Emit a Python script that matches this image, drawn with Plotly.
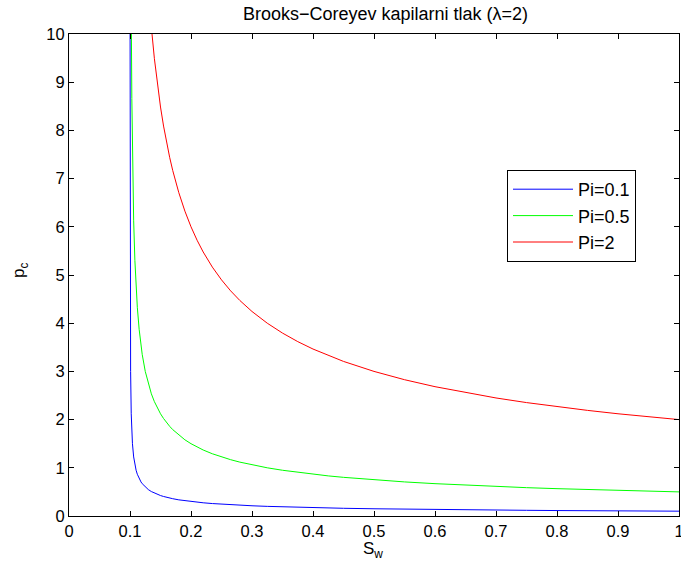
import plotly.graph_objects as go

# Saturation values
sw = [0.10008, 0.1002, 0.1005, 0.101, 0.102, 0.103, 0.104, 0.106, 0.108, 0.11,
      0.112, 0.115, 0.118, 0.12, 0.125, 0.13, 0.135, 0.14, 0.145, 0.15,
      0.155, 0.16, 0.165, 0.17, 0.18, 0.19, 0.2, 0.21, 0.22, 0.235,
      0.25, 0.265, 0.28, 0.3, 0.325, 0.35, 0.375, 0.4, 0.425, 0.45,
      0.5, 0.55, 0.6, 0.65, 0.7, 0.75, 0.8, 0.85, 0.9, 0.95, 1.0]

pc_pi01 = [10.61, 6.708, 4.243, 3.000, 2.121, 1.732, 1.500, 1.225, 1.061, 0.949,
           0.866, 0.775, 0.707, 0.671, 0.600, 0.548, 0.507, 0.474, 0.447, 0.424,
           0.405, 0.387, 0.372, 0.359, 0.335, 0.316, 0.300, 0.286, 0.274, 0.258,
           0.245, 0.234, 0.224, 0.212, 0.200, 0.190, 0.181, 0.173, 0.166, 0.160,
           0.150, 0.141, 0.134, 0.128, 0.122, 0.118, 0.113, 0.110, 0.106, 0.103, 0.100]

pc_pi05 = [53.0, 33.54, 21.21, 15.00, 10.61, 8.660, 7.500, 6.124, 5.303, 4.743,
           4.330, 3.873, 3.536, 3.354, 3.000, 2.739, 2.535, 2.372, 2.236, 2.121,
           2.023, 1.936, 1.861, 1.793, 1.677, 1.581, 1.500, 1.430, 1.369, 1.291,
           1.225, 1.168, 1.118, 1.061, 1.000, 0.949, 0.905, 0.866, 0.832, 0.802,
           0.750, 0.707, 0.671, 0.640, 0.612, 0.588, 0.567, 0.548, 0.530, 0.515, 0.500]

pc_pi2 = [212.0, 134.2, 84.85, 60.00, 42.43, 34.64, 30.00, 24.49, 21.21, 18.97,
          17.32, 15.49, 14.14, 13.42, 12.00, 10.95, 10.14, 9.487, 8.944, 8.485,
          8.090, 7.746, 7.442, 7.171, 6.708, 6.325, 6.000, 5.721, 5.477, 5.164,
          4.899, 4.671, 4.472, 4.243, 4.000, 3.795, 3.618, 3.464, 3.328, 3.207,
          3.000, 2.828, 2.683, 2.558, 2.449, 2.353, 2.268, 2.191, 2.121, 2.058, 2.000]

series_names = ["Pi=0.1", "Pi=0.5", "Pi=2"]
series_colors = ["#0000ff", "#00ff00", "#ff0000"]

x_ticks = [0, 0.1, 0.2, 0.3, 0.4, 0.5, 0.6, 0.7, 0.8, 0.9, 1]
x_tick_labels = ["0", "0.1", "0.2", "0.3", "0.4", "0.5", "0.6", "0.7", "0.8", "0.9", "1"]
y_ticks = [0, 1, 2, 3, 4, 5, 6, 7, 8, 9, 10]

fig = go.Figure()
for name, color, vals in zip(series_names, series_colors, [pc_pi01, pc_pi05, pc_pi2]):
    fig.add_trace(go.Scatter(x=sw, y=vals, mode="lines", name=name,
                             line=dict(color=color, width=1)))

font_family = "Liberation Sans, Arial, sans-serif"

axis_common = dict(
    showline=True, linecolor="black", linewidth=1, mirror="ticks",
    ticks="inside", ticklen=5, tickcolor="black", tickwidth=1,
    showgrid=False, zeroline=False, automargin=False,
    ticklabeloverflow="allow",
    tickfont=dict(family=font_family, size=16.5, color="black"),
)

fig.update_xaxes(range=[0, 1], tickvals=x_ticks, ticktext=x_tick_labels, **axis_common)
fig.update_yaxes(range=[0, 10], tickvals=y_ticks, **axis_common)

W, H = 681, 570
L, R, T, B = 69, 2, 34, 54
pw, ph = W - L - R, H - T - B

fig.update_layout(
    width=W, height=H,
    margin=dict(l=L, r=R, t=T, b=B),
    paper_bgcolor="white", plot_bgcolor="white",
    title=dict(text="Brooks\u2212Coreyev kapilarni tlak (\u03bb=2)", x=385.5 / W,
               xanchor="center", y=1 - 13.5 / H, yanchor="middle",
               font=dict(family=font_family, size=18, color="black")),
    showlegend=True,
    legend=dict(x=(507 - L) / pw, y=(H - B - 170) / ph, xanchor="left", yanchor="top",
                bordercolor="black", borderwidth=1, bgcolor="white",
                font=dict(family=font_family, size=18, color="black"),
                itemwidth=60, tracegroupgap=0),
    annotations=[
        dict(text="S<sub>w</sub>", xref="paper", yref="paper",
             x=(373 - L) / pw, y=-(550 - (H - B)) / ph, xanchor="center", yanchor="middle",
             showarrow=False, font=dict(family=font_family, size=17, color="black")),
        dict(text="p<sub>c</sub>", xref="paper", yref="paper", textangle=-90,
             x=(20 - L) / pw, y=(H - B - 271) / ph, xanchor="center", yanchor="middle",
             showarrow=False, font=dict(family=font_family, size=17, color="black")),
    ],
)

fig.write_html(
    "out.html",
    config={"displayModeBar": False},
    post_script="document.body.style.margin='0px';document.body.style.overflow='hidden';",
)
